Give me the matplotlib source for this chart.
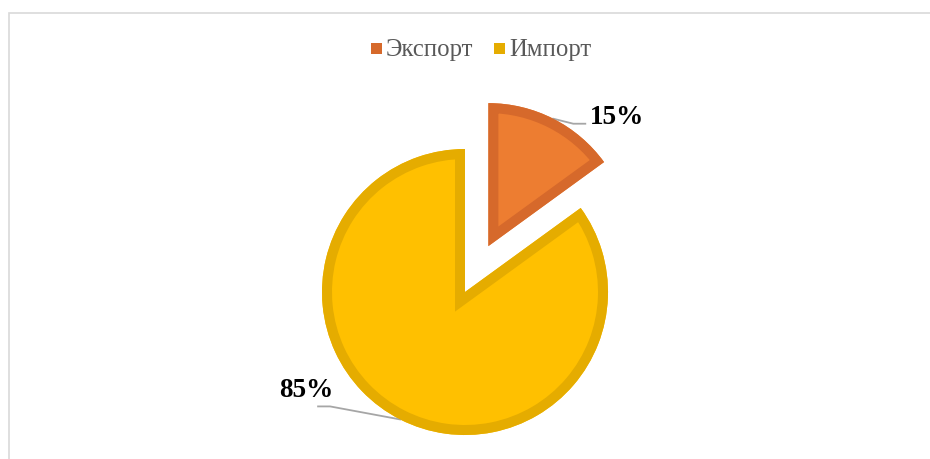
# -*- coding: utf-8 -*-

import numpy as np
import matplotlib as mpl
mpl.use('Agg')
import matplotlib.pyplot as plt
from matplotlib.patches import Wedge, Rectangle

plt.rcParams['font.family'] = ['Liberation Serif', 'DejaVu Serif']

# данные
labels = ["Экспорт", "Импорт"]
shares = [15, 85]
pct_labels = ["15%", "85%"]

fill_colors = ["#ED7D31", "#FFC000"]
edge_colors = ["#D6692B", "#E5AC00"]

W, H = 930, 460
fig = plt.figure(figsize=(W / 100, H / 100), dpi=100)
ax = fig.add_axes([0, 0, 1, 1])

cx, cy = 465, H - 293
R = 143
# explode в pie задаётся в единицах данных
wedges, _ = ax.pie(shares, colors=fill_colors, startangle=90, counterclock=False,
                   explode=[0.36 * R, 0], radius=R, center=(cx, cy),
                   wedgeprops=dict(linewidth=0))

# внутренняя обводка
for w, ec in zip(wedges, edge_colors):
    s = Wedge(w.center, w.r, w.theta1, w.theta2, fill=False, edgecolor=ec,
              linewidth=14.4, zorder=w.get_zorder() + 0.1)
    ax.add_patch(s)
    s.set_clip_path(w)

# подписи с выносками
lead = "#A6A6A6"
offsets = [((20, 5), (32, 5), (37, -2), 'left'),
           ((-70, -13), (-82, -13), (-94, -30), 'center')]
for w, txt, (elb, end, tpos, ha) in zip(wedges, pct_labels, offsets):
    mid = np.deg2rad((w.theta1 + w.theta2) / 2)
    px = w.center[0] + w.r * np.cos(mid)
    py = w.center[1] + w.r * np.sin(mid)
    # экранные смещения (y вниз)
    xs = [px, px + elb[0], px + end[0]]
    ys = [py, py - elb[1], py - end[1]]
    ax.plot(xs, ys, color=lead, lw=1.3, zorder=1)
    ax.text(px + tpos[0], py - tpos[1], txt, ha=ha, va='center',
            fontsize=19.5, fontweight='bold', color='black')

# легенда
lx = [371, 494]
for x0, lab, c in zip(lx, labels, edge_colors):
    ax.add_patch(Rectangle((x0, H - 55), 11, 11, facecolor=c, edgecolor='none'))
    ax.text(x0 + 15, H - 50, lab, ha='left', va='center', fontsize=17.8,
            color='#595959')

# рамка
ax.add_patch(Rectangle((8.5, -20), 960, H - 13.5 + 20, fill=False,
                       edgecolor='#D9D9D9', linewidth=1.2, zorder=0))

ax.set_xlim(0, W)
ax.set_ylim(0, H)
ax.set_aspect('auto')
ax.axis('off')

plt.savefig("out.png", dpi=100)
plt.close()
